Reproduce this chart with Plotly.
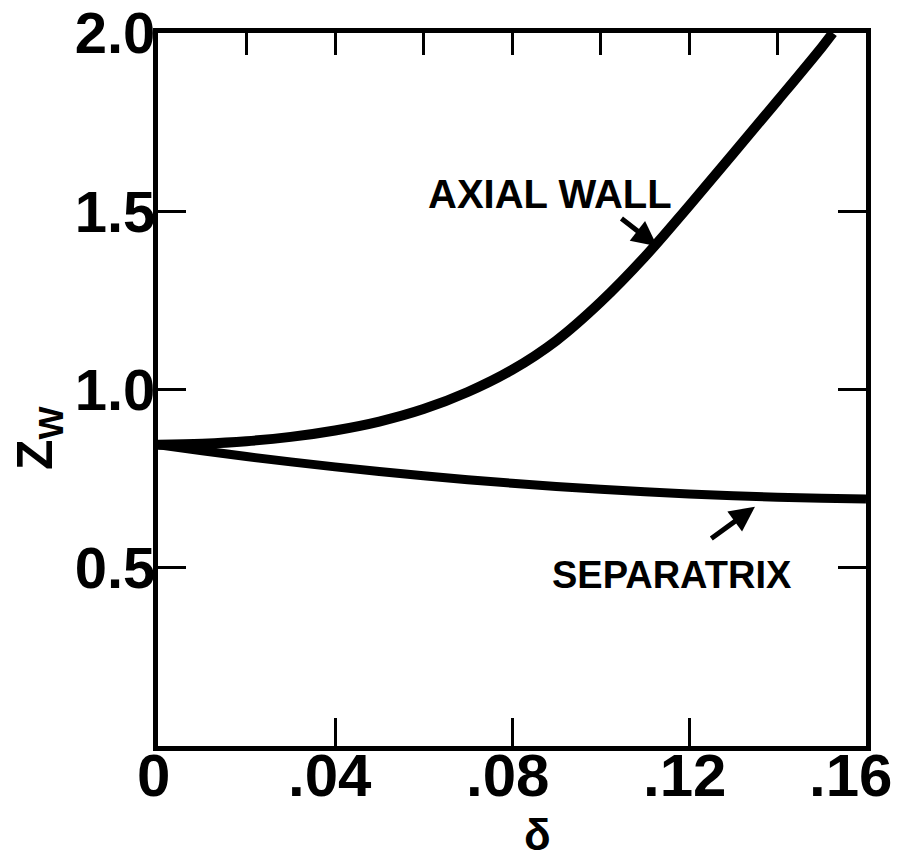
import plotly.graph_objects as go

# Data
delta_wall = [0.0, 0.01, 0.02, 0.03, 0.04, 0.05, 0.06, 0.07, 0.08, 0.09, 0.10, 0.11, 0.12, 0.13, 0.14, 0.15, 0.1525]
zw_wall = [0.845, 0.848, 0.855, 0.867, 0.885, 0.910, 0.945, 0.993, 1.055, 1.137, 1.245, 1.372, 1.515, 1.662, 1.810, 1.960, 2.0]

delta_sep = [0.0, 0.01, 0.02, 0.03, 0.04, 0.05, 0.06, 0.07, 0.08, 0.09, 0.10, 0.11, 0.12, 0.13, 0.14, 0.15, 0.16]
zw_sep = [0.845, 0.828, 0.812, 0.797, 0.783, 0.770, 0.758, 0.747, 0.737, 0.728, 0.720, 0.713, 0.707, 0.702, 0.698, 0.695, 0.693]

x_tickvals = [0.0, 0.04, 0.08, 0.12, 0.16]
x_ticktext = ["0", ".04", ".08", ".12", ".16"]
x_top_ticks = [0.02, 0.04, 0.06, 0.08, 0.10, 0.12, 0.14]
y_tickvals = [0.5, 1.0, 1.5, 2.0]
y_ticktext = ["0.5", "1.0", "1.5", "2.0"]

FONT = "Liberation Sans"

fig = go.Figure()
fig.add_trace(go.Scatter(x=delta_wall, y=zw_wall, mode="lines",
                         line=dict(color="black", width=10, shape="spline"),
                         showlegend=False))
fig.add_trace(go.Scatter(x=delta_sep, y=zw_sep, mode="lines",
                         line=dict(color="black", width=9, shape="spline"),
                         showlegend=False))
# invisible trace on top axis to activate it
fig.add_trace(go.Scatter(x=[0, 0.16], y=[0, 0], xaxis="x2", mode="lines",
                         line=dict(width=0), showlegend=False, hoverinfo="skip"))

fig.update_layout(
    width=900, height=863,
    margin=dict(l=158, r=34, t=33, b=117, autoexpand=False),
    plot_bgcolor="white", paper_bgcolor="white",
    xaxis=dict(range=[0, 0.16], tickvals=x_tickvals, showticklabels=False,
               ticks="inside", ticklen=28, tickwidth=3, tickcolor="black",
               showline=True, linewidth=5, linecolor="black", mirror=True,
               showgrid=False, zeroline=False, automargin=False),
    xaxis2=dict(range=[0, 0.16], overlaying="x", side="top",
                tickvals=x_top_ticks, showticklabels=False,
                ticks="inside", ticklen=22, tickwidth=3, tickcolor="black",
                showline=False, showgrid=False, zeroline=False, automargin=False),
    yaxis=dict(range=[0, 2.0], tickvals=y_tickvals, ticktext=y_ticktext,
               ticks="inside", ticklen=28, tickwidth=3, tickcolor="black",
               showline=True, linewidth=5, linecolor="black", mirror="ticks",
               showgrid=False, zeroline=False, automargin=False,
               ticklabelstandoff=-14,
               tickfont=dict(family=FONT, size=58, color="black", weight="bold")),
    font=dict(family=FONT, color="black"),
)

annotations = []
# x tick labels placed through the x scale
for v, t in zip(x_tickvals, x_ticktext):
    last = v == x_tickvals[-1]
    annotations.append(dict(
        text=t, x=v, y=0, xref="x", yref="y",
        xanchor="right" if last else "center", yanchor="top",
        xshift=28 if last else -5, yshift=6, showarrow=False,
        font=dict(family=FONT, size=60, color="black", weight="bold")))

annotations += [
    dict(text="AXIAL WALL", x=0.0885, y=1.548, xref="x", yref="y",
         xanchor="center", yanchor="middle",
         showarrow=False, font=dict(family=FONT, size=40, color="black", weight="bold")),
    dict(text="SEPARATRIX", x=0.1162, y=0.48, xref="x", yref="y",
         xanchor="center", yanchor="middle",
         showarrow=False, font=dict(family=FONT, size=38, color="black", weight="bold")),
    dict(text="", x=0.1128, y=1.402, ax=0.1044, ay=1.483, xref="x", yref="y",
         axref="x", ayref="y", showarrow=True, arrowhead=2, arrowsize=1,
         arrowwidth=5, arrowcolor="black"),
    dict(text="", x=0.1349, y=0.671, ax=0.1247, ay=0.579, xref="x", yref="y",
         axref="x", ayref="y", showarrow=True, arrowhead=2, arrowsize=1,
         arrowwidth=5, arrowcolor="black"),
    dict(text="δ", x=(537 - 158) / 708, y=(746 - 834) / 713, xref="paper", yref="paper",
         xanchor="center", yanchor="middle",
         showarrow=False, font=dict(family=FONT, size=44, color="black", weight="bold")),
    dict(text="Z<sub>W</sub>", x=(38 - 158) / 708, y=(746 - 438) / 713, xref="paper", yref="paper",
         xanchor="center", yanchor="middle",
         showarrow=False, textangle=-90,
         font=dict(family=FONT, size=50, color="black", weight="bold")),
]
fig.update_layout(annotations=annotations)

fig.write_html("out.html")
